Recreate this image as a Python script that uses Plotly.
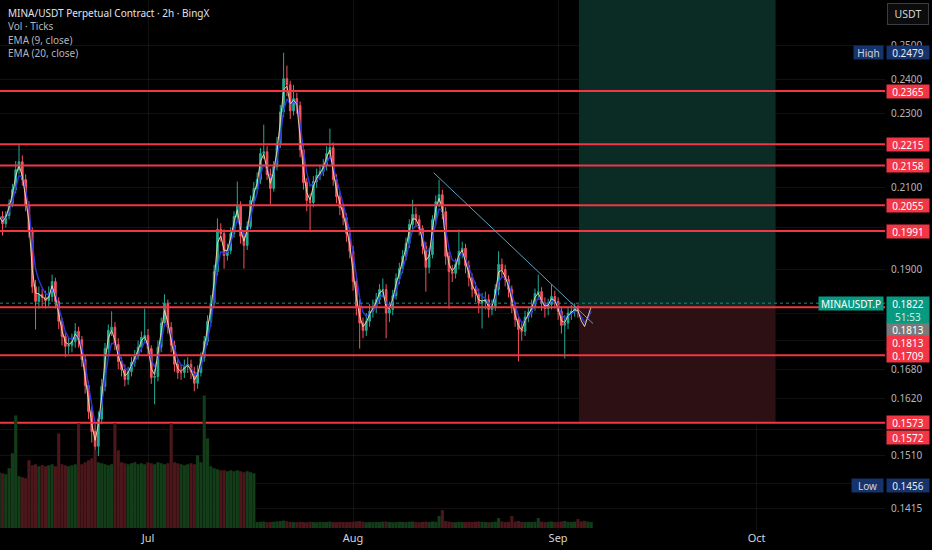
import numpy as np
import pandas as pd
import plotly.graph_objects as go

# ---------------- data (12h candles) ----------------
START = "2025-06-08 12:00"
FIRST_OPEN = 0.2020

closes = [
    0.2027, 0.2009, 0.2029, 0.2059, 0.2095, 0.2147, 0.2168, 0.2121, 0.2054, 0.1990,
    0.1859, 0.1826, 0.1842, 0.1835, 0.1828, 0.1837, 0.1871, 0.1826, 0.1782, 0.1749,
    0.1728, 0.1730, 0.1738, 0.1760, 0.1742, 0.1700, 0.1647, 0.1595, 0.1556, 0.1528,
    0.1580, 0.1645, 0.1723, 0.1762, 0.1769, 0.1732, 0.1696, 0.1679, 0.1659, 0.1675,
    0.1694, 0.1707, 0.1726, 0.1747, 0.1751, 0.1723, 0.1663, 0.1665, 0.1726, 0.1778,
    0.1822, 0.1769, 0.1730, 0.1690, 0.1673, 0.1673, 0.1685, 0.1690, 0.1675, 0.1651,
    0.1673, 0.1704, 0.1738, 0.1782, 0.1822, 0.1894, 0.1995, 0.1985, 0.1932, 0.1944,
    0.1985, 0.2027, 0.2054, 0.1978, 0.1956, 0.2002, 0.2067, 0.2098, 0.2121, 0.2190,
    0.2195, 0.2134, 0.2098, 0.2155, 0.2217, 0.2305, 0.2401, 0.2383, 0.2308, 0.2343,
    0.2323, 0.2200, 0.2113, 0.2067, 0.2062, 0.2116, 0.2132, 0.2142, 0.2158, 0.2190,
    0.2206, 0.2121, 0.2077, 0.2049, 0.2024, 0.1985, 0.1942, 0.1871, 0.1815, 0.1778,
    0.1762, 0.1782, 0.1804, 0.1815, 0.1830, 0.1853, 0.1853, 0.1800, 0.1808, 0.1839,
    0.1878, 0.1901, 0.1930, 0.1961, 0.2007, 0.2032, 0.2019, 0.1997, 0.1954, 0.1904,
    0.1934, 0.2019, 0.2064, 0.2082, 0.2039, 0.1930, 0.1894, 0.1890, 0.1911, 0.1942,
    0.1949, 0.1908, 0.1880, 0.1853, 0.1844, 0.1822, 0.1826, 0.1830, 0.1808, 0.1815,
    0.1853, 0.1911, 0.1899, 0.1876, 0.1853, 0.1815, 0.1786, 0.1764, 0.1760, 0.1791,
    0.1802, 0.1815, 0.1844, 0.1848, 0.1822, 0.1810, 0.1819, 0.1837, 0.1826, 0.1804,
    0.1773, 0.1778, 0.1800, 0.1804, 0.1810, 0.1804, 0.1775, 0.1766, 0.1800, 0.1822,
]

highs = [
    0.2045, 0.2040, 0.2040, 0.2070, 0.2110, 0.2170, 0.2215, 0.2185, 0.2135, 0.2065,
    0.2000, 0.1875, 0.1860, 0.1855, 0.1850, 0.1860, 0.1887, 0.1880, 0.1835, 0.1790,
    0.1760, 0.1748, 0.1755, 0.1778, 0.1770, 0.1750, 0.1710, 0.1655, 0.1605, 0.1570,
    0.1595, 0.1660, 0.1735, 0.1775, 0.1804, 0.1780, 0.1745, 0.1705, 0.1690, 0.1685,
    0.1705, 0.1720, 0.1740, 0.1760, 0.1810, 0.1765, 0.1730, 0.1680, 0.1740, 0.1790,
    0.1842, 0.1830, 0.1780, 0.1740, 0.1700, 0.1690, 0.1700, 0.1705, 0.1700, 0.1685,
    0.1688, 0.1715, 0.1750, 0.1795, 0.1840, 0.1910, 0.2022, 0.2010, 0.1995, 0.1960,
    0.2000, 0.2040, 0.2116, 0.2065, 0.1990, 0.2015, 0.2080, 0.2115, 0.2140, 0.2205,
    0.2269, 0.2210, 0.2150, 0.2170, 0.2235, 0.2325, 0.2479, 0.2440, 0.2395, 0.2383,
    0.2360, 0.2335, 0.2215, 0.2125, 0.2085, 0.2130, 0.2150, 0.2160, 0.2175, 0.2210,
    0.2258, 0.2220, 0.2135, 0.2090, 0.2060, 0.2035, 0.2000, 0.1955, 0.1885, 0.1830,
    0.1790, 0.1800, 0.1820, 0.1830, 0.1845, 0.1865, 0.1878, 0.1865, 0.1825, 0.1852,
    0.1890, 0.1915, 0.1945, 0.1975, 0.2020, 0.2069, 0.2050, 0.2030, 0.2005, 0.1965,
    0.1950, 0.2030, 0.2080, 0.2121, 0.2095, 0.2050, 0.1940, 0.1910, 0.1925, 0.1995,
    0.1965, 0.1960, 0.1920, 0.1890, 0.1870, 0.1855, 0.1845, 0.1848, 0.1842, 0.1830,
    0.1865, 0.1942, 0.1925, 0.1910, 0.1885, 0.1862, 0.1825, 0.1795, 0.1780, 0.1805,
    0.1815, 0.1830, 0.1855, 0.1887, 0.1858, 0.1835, 0.1832, 0.1864, 0.1850, 0.1835,
    0.1815, 0.1795, 0.1815, 0.1818, 0.1822, 0.1819, 0.1812, 0.1785, 0.1812, 0.1830,
]

lows = [
    0.2005, 0.1980, 0.2000, 0.2020, 0.2050, 0.2085, 0.2135, 0.2105, 0.2040, 0.1975,
    0.1845, 0.1764, 0.1810, 0.1815, 0.1810, 0.1815, 0.1825, 0.1810, 0.1765, 0.1730,
    0.1705, 0.1712, 0.1715, 0.1725, 0.1725, 0.1685, 0.1630, 0.1580, 0.1535, 0.1456,
    0.1510, 0.1570, 0.1635, 0.1710, 0.1750, 0.1720, 0.1680, 0.1665, 0.1645, 0.1648,
    0.1665, 0.1685, 0.1700, 0.1715, 0.1735, 0.1710, 0.1650, 0.1609, 0.1655, 0.1715,
    0.1770, 0.1755, 0.1715, 0.1675, 0.1660, 0.1658, 0.1662, 0.1672, 0.1660, 0.1635,
    0.1640, 0.1665, 0.1695, 0.1730, 0.1770, 0.1815, 0.1885, 0.1965, 0.1901, 0.1920,
    0.1935, 0.1975, 0.2015, 0.1960, 0.1901, 0.1945, 0.1995, 0.2055, 0.2085, 0.2110,
    0.2175, 0.2120, 0.2057, 0.2090, 0.2145, 0.2205, 0.2290, 0.2350, 0.2285, 0.2295,
    0.2300, 0.2180, 0.2095, 0.2040, 0.1990, 0.2050, 0.2100, 0.2120, 0.2130, 0.2145,
    0.2175, 0.2105, 0.2060, 0.2030, 0.2005, 0.1965, 0.1925, 0.1850, 0.1795, 0.1723,
    0.1745, 0.1750, 0.1770, 0.1790, 0.1800, 0.1820, 0.1835, 0.1745, 0.1780, 0.1795,
    0.1830, 0.1865, 0.1890, 0.1920, 0.1950, 0.1995, 0.2000, 0.1980, 0.1935, 0.1848,
    0.1890, 0.1925, 0.2005, 0.2050, 0.2020, 0.1910, 0.1810, 0.1870, 0.1878, 0.1900,
    0.1925, 0.1890, 0.1860, 0.1835, 0.1825, 0.1800, 0.1766, 0.1808, 0.1790, 0.1795,
    0.1805, 0.1840, 0.1880, 0.1860, 0.1835, 0.1800, 0.1770, 0.1696, 0.1740, 0.1750,
    0.1780, 0.1790, 0.1805, 0.1830, 0.1805, 0.1790, 0.1795, 0.1808, 0.1810, 0.1785,
    0.1755, 0.1702, 0.1765, 0.1785, 0.1792, 0.1790, 0.1760, 0.1732, 0.1750, 0.1790,
]

volumes = [
    560, 550, 540, 600, 750, 1130, 520, 510, 500, 680,
    630, 640, 620, 630, 620, 630, 640, 620, 950, 640,
    630, 620, 630, 640, 1050, 640, 660, 680, 700, 780,
    660, 650, 640, 630, 640, 1050, 780, 660, 650, 640,
    650, 660, 640, 650, 640, 660, 650, 640, 660, 650,
    640, 650, 1050, 660, 650, 640, 630, 640, 650, 640,
    730, 660, 1330, 900, 620, 600, 590, 580, 580, 570,
    580, 570, 580, 570, 560, 570, 560, 550,
    60, 62, 65, 58, 60, 63, 66, 70, 75, 68, 62, 60,
    58, 62, 60, 57, 63, 60, 58, 61, 59, 60,
    64, 60, 58, 62, 60, 59, 61, 63, 66, 70,
    62, 58, 60, 59, 61, 60, 64, 66, 60, 58,
    60, 62, 61, 59, 63, 65, 60, 58, 62, 64,
    60, 66, 62, 120, 180, 70, 64, 60, 58, 62,
    60, 59, 61, 60, 63, 65, 62, 60, 58, 61,
    64, 100, 66, 60, 62, 120, 64, 70, 62, 60,
    61, 60, 63, 100, 64, 60, 62, 66, 60, 63,
    65, 70, 62, 60, 64, 90, 66, 72, 64, 60,
]

# horizontal support / resistance levels
levels = [0.2365, 0.2215, 0.2158, 0.2055, 0.1991, 0.1813, 0.1709, 0.1573]
# long position tool
pos_dates = ["2025-09-04 03:30", "2025-10-03 21:00"]
pos_entry, pos_stop, pos_target = 0.1813, 0.1572, 0.30
# descending trendline
trend_dates = ["2025-08-13 04:30", "2025-09-06 06:30"]
trend_prices = [0.2139, 0.1777]
# axis ticks (texts hidden where the reference covers them with labels)
price_ticks = [0.25, 0.24, 0.23, 0.22, 0.21, 0.20, 0.19, 0.18, 0.174, 0.168,
               0.162, 0.156, 0.151, 0.146, 0.1415]
hidden_ticks = [0.22, 0.20, 0.18, 0.174, 0.156, 0.146]
month_ticks = ["2025-07-01", "2025-08-01", "2025-09-01", "2025-10-01"]
month_labels = ["Jul", "Aug", "Sep", "Oct"]
x_view = ["2025-06-08 15:00", "2025-10-20 10:00"]
y_view = [0.13786, 0.2645]
EMA_LENGTHS = (9, 20)
BAR_HOURS, CANDLE_HOURS = 2, 12

# ---------------- build ----------------
dates = pd.date_range(START, periods=len(closes), freq="12h")
opens = [FIRST_OPEN] + closes[:-1]
up = [c >= o for o, c in zip(opens, closes)]

UP_C, DN_C = "#22ab94", "#f7525f"
RED = "#f23645"
GREEN = "#089981"

def ema(vals, n):
    a = 1 - (1 - 2 / (n + 1)) ** (CANDLE_HOURS / BAR_HOURS)
    return pd.Series(vals).ewm(alpha=a, adjust=False).mean().tolist()

fig = go.Figure()

# volume (overlay axis)
fig.add_trace(go.Bar(
    x=dates, y=volumes, yaxis="y2",
    marker=dict(color=["#133d19" if u else "#4b171b" for u in up], line=dict(width=0)),
    hoverinfo="skip"))

# position boxes
fig.add_trace(go.Scatter(
    x=[pos_dates[0], pos_dates[1], pos_dates[1], pos_dates[0], pos_dates[0]],
    y=[pos_entry, pos_entry, pos_target, pos_target, pos_entry],
    fill="toself", fillcolor="#0a2c25", line=dict(width=0), mode="lines", hoverinfo="skip"))
fig.add_trace(go.Scatter(
    x=[pos_dates[0], pos_dates[1], pos_dates[1], pos_dates[0], pos_dates[0]],
    y=[pos_stop, pos_stop, pos_entry, pos_entry, pos_stop],
    fill="toself", fillcolor="#2c1013", line=dict(width=0), mode="lines", hoverinfo="skip"))

# candles
fig.add_trace(go.Candlestick(
    x=dates, open=opens, high=highs, low=lows, close=closes,
    increasing=dict(line=dict(color=UP_C, width=1), fillcolor=UP_C),
    decreasing=dict(line=dict(color=DN_C, width=1), fillcolor=DN_C),
    whiskerwidth=0, hoverinfo="skip"))

# EMAs
fig.add_trace(go.Scatter(x=dates, y=ema(closes, EMA_LENGTHS[1]), mode="lines",
                         line=dict(color="#2c34d8", width=1.4), hoverinfo="skip"))
fig.add_trace(go.Scatter(x=dates, y=ema(closes, EMA_LENGTHS[0]), mode="lines",
                         line=dict(color="#e6d3a3", width=1), hoverinfo="skip"))

# level lines
for lv in levels:
    fig.add_trace(go.Scatter(x=x_view, y=[lv, lv], mode="lines",
                             line=dict(color=RED, width=2), hoverinfo="skip"))
# last price line
fig.add_trace(go.Scatter(x=x_view, y=[closes[-1], closes[-1]], mode="lines",
                         line=dict(color=GREEN, width=1, dash="dot"), hoverinfo="skip"))
# trendline
fig.add_trace(go.Scatter(x=trend_dates, y=trend_prices, mode="lines",
                         line=dict(color="#5d9ec4", width=1), hoverinfo="skip"))

FONT = "Noto Sans"
anns = []

def lbl(price, text, bg, yshift=0, fg="#ffffff", width=40, height=11,
        xanchor="left", xshift=1, yanchor="middle"):
    anns.append(dict(x=1, xref="paper", y=np.log10(price), yref="y",
                     xanchor=xanchor, yanchor=yanchor, xshift=xshift, yshift=yshift,
                     text=text, showarrow=False, bgcolor=bg, borderpad=1,
                     width=width, height=height, align="center",
                     font=dict(family=FONT, size=10, color=fg)))

HL_BG = "#17336b"
lbl(max(highs), "High", HL_BG, fg="#d1d4dc", width=27, xanchor="right", xshift=-1)
lbl(max(highs), f"{max(highs):.4f}", HL_BG, fg="#e8eaf0")
lbl(min(lows), "Low", HL_BG, fg="#d1d4dc", width=29, xanchor="right", xshift=-1)
lbl(min(lows), f"{min(lows):.4f}", HL_BG, fg="#e8eaf0")
for lv in levels:
    if lv == 0.1813:
        continue
    lbl(lv, f"{lv:.4f}", RED)
lbl(pos_stop, f"{pos_stop:.4f}", RED, yshift=-14)
lbl(pos_entry, f"{pos_entry:.4f}", "#7a7a7a", yshift=-22)
lbl(pos_entry, f"{pos_entry:.4f}", RED, yshift=-35)
lbl(closes[-1], "MINAUSDT.P", GREEN, width=62, xanchor="right", xshift=-1)
lbl(closes[-1], f"{closes[-1]:.4f}<br><span style='color:#cdeee6'>51:53</span>",
    GREEN, width=40, height=24, yanchor="top", yshift=7)

# header text
legend_lines = [("MINA/USDT Perpetual Contract · 2h · BingX", "#e0e3eb"),
                ("Vol · Ticks", "#b2b5be"),
                (f"EMA ({EMA_LENGTHS[0]}, close)", "#b2b5be"),
                (f"EMA ({EMA_LENGTHS[1]}, close)", "#b2b5be")]
for k, (t, c) in enumerate(legend_lines):
    anns.append(dict(x=0, xref="paper", y=1, yref="paper", xanchor="left",
                     yanchor="middle", xshift=6, yshift=-13 - 13.3 * k, text=t,
                     showarrow=False, font=dict(family=FONT, size=10, color=c)))

anns.append(dict(x=1, xref="paper", y=1, yref="paper", xanchor="left", yanchor="top",
                 xshift=2, yshift=-3, text="USDT", showarrow=False,
                 bgcolor="#0c0c0c", bordercolor="#3a3c44", borderwidth=1, borderpad=2,
                 width=36, height=16, font=dict(family=FONT, size=10.5, color="#d1d4dc")))

GRID = "rgba(255,255,255,0.065)"
fig.update_layout(
    width=932, height=550,
    paper_bgcolor="#000000", plot_bgcolor="#000000",
    margin=dict(l=0, r=47, t=0, b=20),
    showlegend=False, hovermode=False,
    annotations=anns,
    xaxis=dict(type="date", range=x_view, rangeslider=dict(visible=False),
               tickvals=month_ticks, ticktext=month_labels, showgrid=True,
               gridcolor=GRID, gridwidth=1, zeroline=False, showline=False, ticks="",
               tickfont=dict(family=FONT, size=11, color="#d1d4dc")),
    yaxis=dict(type="log", range=[np.log10(y_view[0]), np.log10(y_view[1])],
               side="right", tickvals=price_ticks,
               ticktext=["" if v in hidden_ticks else f"{v:.4f}" for v in price_ticks],
               ticklabelstandoff=5,
               showgrid=True, gridcolor=GRID, zeroline=False, showline=False, ticks="",
               tickfont=dict(family=FONT, size=10, color="#b2b5be")),
    yaxis2=dict(overlaying="y", range=[-20, 5300], visible=False, fixedrange=True),
    bargap=0.05,
)

fig.write_html("out.html",
               config={"displayModeBar": False},
               post_script="document.body.style.margin='0';"
                           "document.body.style.overflow='hidden';")
